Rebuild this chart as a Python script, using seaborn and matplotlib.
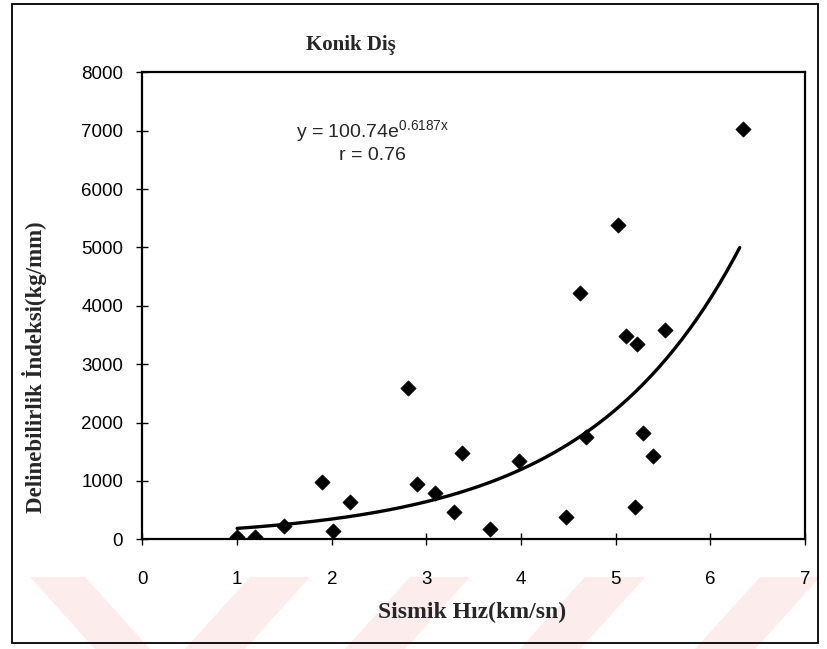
import numpy as np
import pandas as pd
import matplotlib
matplotlib.use("Agg")
import matplotlib.pyplot as plt
import seaborn as sns
from matplotlib.patches import Rectangle, Polygon

# ---- data ----
sismik_hiz = [1.00, 1.19, 1.49, 1.90, 2.01, 2.19, 2.81, 2.90, 3.09, 3.29, 3.38, 3.67,
              3.98, 4.48, 4.62, 4.69, 5.02, 5.11, 5.20, 5.22, 5.29, 5.39, 5.52, 6.34]
delinebilirlik = [45, 45, 233, 987, 147, 644, 2587, 942, 788, 463, 1484, 180,
                  1347, 388, 4214, 1747, 5390, 3483, 559, 3340, 1816, 1433, 3585, 7029]

# trendline (exponential) shown on the chart
fit_a = 100.74
fit_b = 0.6187
fit_x_range = [1.0, 6.31]
equation_text = "y = 100.74e$^{\\mathregular{0.6187x}}$"
r_text = "r = 0.76"

title = "Konik Diş"
xlabel = "Sismik Hız(km/sn)"
ylabel = "Delinebilirlik İndeksi(kg/mm)"
x_ticks = [0, 1, 2, 3, 4, 5, 6, 7]
y_ticks = [0, 1000, 2000, 3000, 4000, 5000, 6000, 7000, 8000]

df = pd.DataFrame({"x": sismik_hiz, "y": delinebilirlik})
xf = np.linspace(fit_x_range[0], fit_x_range[1], 200)
fit_df = pd.DataFrame({"x": xf, "y": fit_a * np.exp(fit_b * xf)})

sns.set_theme(style="white")
plt.rcParams["font.family"] = ["Liberation Sans", "DejaVu Sans"]
plt.rcParams["mathtext.default"] = "regular"

W, H = 828, 649
fig = plt.figure(figsize=(W / 100, H / 100), dpi=100)
fig.patch.set_facecolor("white")

# faint watermark stripes at the bottom
stripe_col = (0.99, 0.925, 0.925)
stripes = [
    [(30, 577), (85, 577), (150, 649), (95, 649)],
    [(250, 577), (310, 577), (245, 649), (185, 649)],
    [(410, 577), (470, 577), (405, 649), (345, 649)],
    [(585, 577), (645, 577), (580, 649), (520, 649)],
    [(760, 577), (820, 577), (755, 649), (695, 649)],
]
for s in stripes:
    pts = [(px / W, 1 - py / H) for px, py in s]
    fig.patches.append(Polygon(pts, closed=True, transform=fig.transFigure,
                               facecolor=stripe_col, edgecolor="none", zorder=-5))

# figure border
fig.patches.append(Rectangle((12 / W, 1 - 643 / H), (818 - 12) / W, (643 - 4) / H,
                             transform=fig.transFigure, fill=False,
                             edgecolor="black", linewidth=1.3, zorder=-4))

left, right, top, bottom = 142.5, 805, 72.3, 539.3
ax = fig.add_axes([left / W, 1 - bottom / H, (right - left) / W, (bottom - top) / H])
ax.set_facecolor("none")
ax.set_zorder(5)

sns.lineplot(data=fit_df, x="x", y="y", ax=ax, color="black", linewidth=2.4)
sns.scatterplot(data=df, x="x", y="y", ax=ax, marker="D", s=60, color="black",
                edgecolor="black", linewidth=0.5, zorder=3)

ax.set_xlim(0, 7)
ax.set_ylim(0, 8000)
ax.set_xticks(x_ticks)
ax.set_yticks(y_ticks)
ax.set_xticklabels([str(t) for t in x_ticks], fontsize=13.5)
ax.set_yticklabels([str(t) for t in y_ticks], fontsize=13.5)
ax.tick_params(bottom=True, left=True, direction="inout", length=8, width=1,
               colors="black")
ax.tick_params(axis="y", pad=10)
ax.tick_params(axis="x", pad=19)
for sp in ax.spines.values():
    sp.set_visible(True)
    sp.set_color("black")
    sp.set_linewidth(1.6)
ax.set_xlabel("")
ax.set_ylabel("")

ax.text(2.43, 7000, equation_text, fontsize=14, ha="center", va="center")
ax.text(2.43, 6580, r_text, fontsize=14, ha="center", va="center")

serif = ["Liberation Serif", "DejaVu Serif"]
fig.text(351 / W, 1 - 45 / H, title, family=serif, fontweight="bold",
         fontsize=15, ha="center", va="center", zorder=10)
fig.text(472 / W, 1 - 612 / H, xlabel, family=serif, fontweight="bold",
         fontsize=17, ha="center", va="center", zorder=10)
fig.text(35 / W, 1 - 367 / H, ylabel, family=serif, fontweight="bold",
         fontsize=16.5, ha="center", va="center", rotation=90, zorder=10)

fig.savefig("out.png", dpi=100)
